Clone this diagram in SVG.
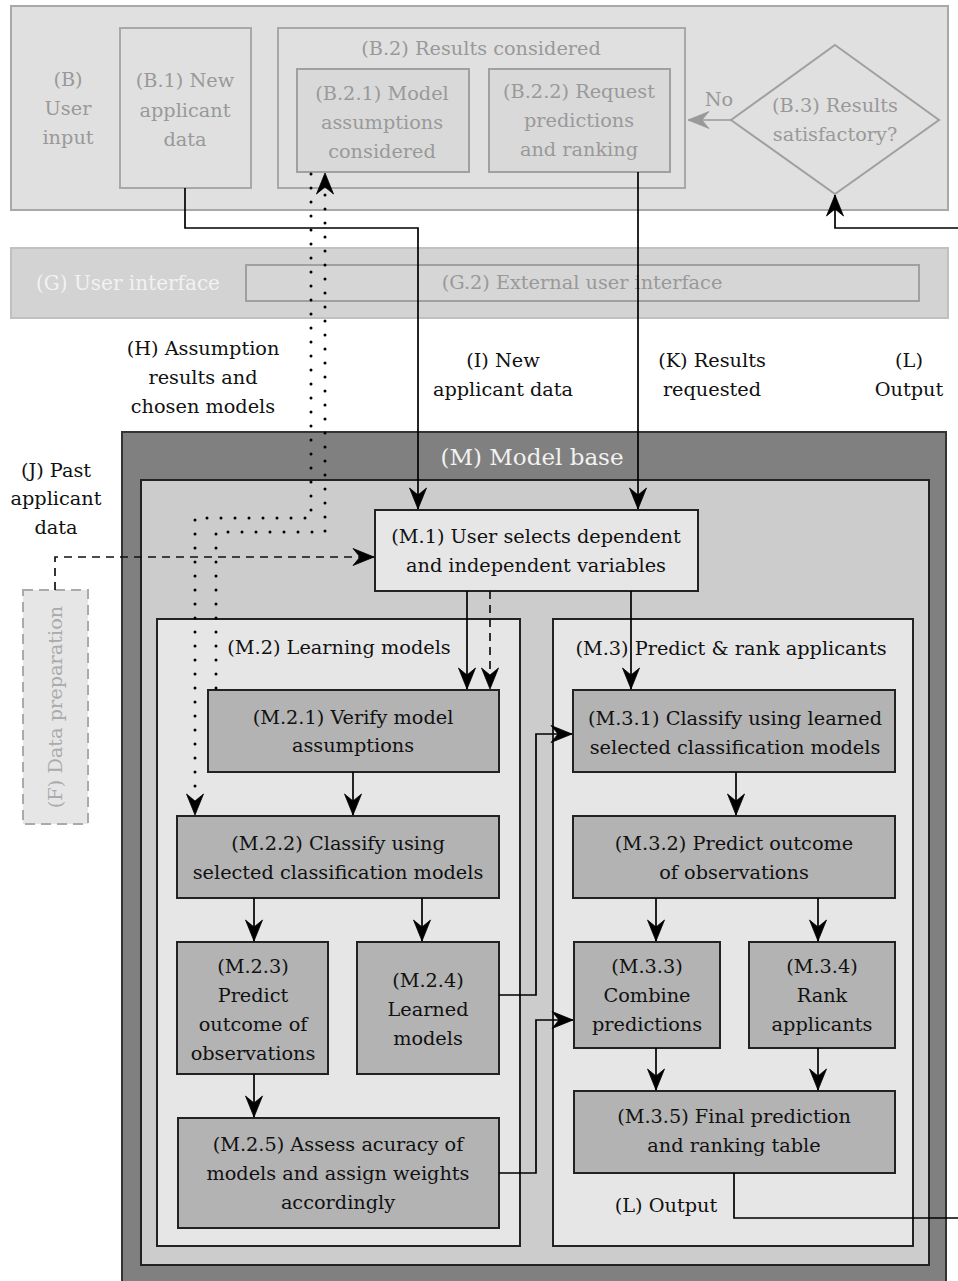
<svg xmlns="http://www.w3.org/2000/svg" width="958" height="1281" viewBox="0 0 958 1281">
<style>
text{font-family:"DejaVu Serif","Liberation Serif",serif;font-size:19.3px;text-anchor:middle;dominant-baseline:central;fill:#111}
.g{fill:#999}
.w{fill:#f2f2f2}
.bx{fill:#e0e0e0;stroke:#a8a8a8;stroke-width:2}
.bx2{fill:#d9d9d9;stroke:#a0a0a0;stroke-width:2}
.mid{fill:#e6e6e6;stroke:#222;stroke-width:2}
.dk{fill:#b3b3b3;stroke:#222;stroke-width:2}
.ln{fill:none;stroke:#000;stroke-width:1.7}
.dash{fill:none;stroke:#111;stroke-width:1.7;stroke-dasharray:8 6}
.dot{fill:none;stroke:#000;stroke-width:3;stroke-linecap:round;stroke-dasharray:0 14}
</style>
<defs>
<marker id="ah" viewBox="-23 -10 24 20" refX="0" refY="0" markerWidth="24" markerHeight="20" markerUnits="userSpaceOnUse" orient="auto">
<path d="M0,0 L-21,-8.5 L-14,0 L-21,8.5 Z" fill="#000" stroke="#000" stroke-width="0.8" stroke-linejoin="miter"/>
</marker>
<marker id="ahg" viewBox="-23 -10 24 20" refX="0" refY="0" markerWidth="24" markerHeight="20" markerUnits="userSpaceOnUse" orient="auto">
<path d="M0,0 L-21,-8.5 L-14,0 L-21,8.5 Z" fill="#999" stroke="#999" stroke-width="0.8"/>
</marker>
</defs>

<g id="B">
<rect class="bx" x="11" y="6" width="937" height="204"/>
<text class="g" x="68" y="79">(B)</text>
<text class="g" x="68" y="108">User</text>
<text class="g" x="68" y="137">input</text>
</g>
<g id="B1">
<rect class="bx" x="120" y="28" width="131" height="160"/>
<text class="g" x="185" y="80">(B.1) New</text>
<text class="g" x="185" y="110">applicant</text>
<text class="g" x="185" y="139">data</text>
</g>
<g id="B2">
<rect class="bx" x="278" y="28" width="407" height="160"/>
<text class="g" x="481" y="48">(B.2) Results considered</text>
</g>
<g id="B21">
<rect class="bx2" x="297" y="69" width="172" height="103"/>
<text class="g" x="382" y="93">(B.2.1) Model</text>
<text class="g" x="382" y="122">assumptions</text>
<text class="g" x="382" y="151">considered</text>
</g>
<g id="B22">
<rect class="bx2" x="489" y="69" width="181" height="103"/>
<text class="g" x="579" y="91">(B.2.2) Request</text>
<text class="g" x="579" y="120">predictions</text>
<text class="g" x="579" y="149">and ranking</text>
</g>
<g id="B3">
<polygon points="835,45 939,120 835,194 731,120" fill="#e0e0e0" stroke="#a0a0a0" stroke-width="2"/>
<text class="g" x="835" y="105">(B.3) Results</text>
<text class="g" x="835" y="134">satisfactory?</text>
</g>

<g id="G">
<rect x="11" y="248" width="937" height="70" fill="#d3d3d3" stroke="#c0c0c0" stroke-width="2"/>
<text class="w" x="128" y="283" style="font-size:20px">(G) User interface</text>
</g>
<g id="G2">
<rect x="246" y="265" width="673" height="36" fill="#d6d6d6" stroke="#a0a0a0" stroke-width="2"/>
<text class="g" x="582" y="282">(G.2) External user interface</text>
</g>

<g id="labels">
<text class="g" x="719" y="99">No</text>
<text x="203" y="348">(H) Assumption</text>
<text x="203" y="377">results and</text>
<text x="203" y="406">chosen models</text>
<text x="503" y="360">(I) New</text>
<text x="503" y="389">applicant data</text>
<text x="712" y="360">(K) Results</text>
<text x="712" y="389">requested</text>
<text x="909" y="360">(L)</text>
<text x="909" y="389">Output</text>
<text x="56" y="470">(J) Past</text>
<text x="56" y="498">applicant</text>
<text x="56" y="527">data</text>
</g>

<g id="F">
<rect x="23" y="590" width="65" height="234" fill="#e6e6e6" stroke="#aaa" stroke-width="2" stroke-dasharray="10 6"/>
<text x="0" y="0" transform="translate(55,707) rotate(-90)" style="fill:#aaa">(F) Data preparation</text>
</g>

<g id="M">
<rect x="122" y="432" width="824" height="860" fill="#808080" stroke="#333" stroke-width="2"/>
<text class="w" x="532" y="457" style="font-size:23px">(M) Model base</text>
<rect x="141" y="480" width="788" height="785" fill="#cccccc" stroke="#222" stroke-width="2"/>
</g>
<g id="M1">
<rect class="mid" x="375" y="510" width="323" height="81"/>
<text x="536" y="536">(M.1) User selects dependent</text>
<text x="536" y="565">and independent variables</text>
</g>
<g id="M2">
<rect class="mid" x="157" y="619" width="363" height="627"/>
<text x="339" y="647">(M.2) Learning models</text>
</g>
<g id="M3">
<rect class="mid" x="553" y="619" width="360" height="627"/>
<text x="731" y="648">(M.3) Predict &amp; rank applicants</text>
</g>
<g id="M21">
<rect class="dk" x="208" y="690" width="291" height="82"/>
<text x="353" y="717">(M.2.1) Verify model</text>
<text x="353" y="745">assumptions</text>
</g>
<g id="M22">
<rect class="dk" x="177" y="816" width="322" height="82"/>
<text x="338" y="843">(M.2.2) Classify using</text>
<text x="338" y="872">selected classification models</text>
</g>
<g id="M23">
<rect class="dk" x="177" y="942" width="151" height="132"/>
<text x="253" y="966">(M.2.3)</text>
<text x="253" y="995">Predict</text>
<text x="253" y="1024">outcome of</text>
<text x="253" y="1053">observations</text>
</g>
<g id="M24">
<rect class="dk" x="357" y="942" width="142" height="132"/>
<text x="428" y="980">(M.2.4)</text>
<text x="428" y="1009">Learned</text>
<text x="428" y="1038">models</text>
</g>
<g id="M25">
<rect class="dk" x="178" y="1118" width="321" height="110"/>
<text x="338" y="1144">(M.2.5) Assess acuracy of</text>
<text x="338" y="1173">models and assign weights</text>
<text x="338" y="1202">accordingly</text>
</g>
<g id="M31">
<rect class="dk" x="573" y="690" width="322" height="82"/>
<text x="735" y="718">(M.3.1) Classify using learned</text>
<text x="735" y="747">selected classification models</text>
</g>
<g id="M32">
<rect class="dk" x="573" y="816" width="322" height="82"/>
<text x="734" y="843">(M.3.2) Predict outcome</text>
<text x="734" y="872">of observations</text>
</g>
<g id="M33">
<rect class="dk" x="574" y="942" width="146" height="106"/>
<text x="647" y="966">(M.3.3)</text>
<text x="647" y="995">Combine</text>
<text x="647" y="1024">predictions</text>
</g>
<g id="M34">
<rect class="dk" x="749" y="942" width="146" height="106"/>
<text x="822" y="966">(M.3.4)</text>
<text x="822" y="995">Rank</text>
<text x="822" y="1024">applicants</text>
</g>
<g id="M35">
<rect class="dk" x="574" y="1091" width="321" height="82"/>
<text x="734" y="1116">(M.3.5) Final prediction</text>
<text x="734" y="1145">and ranking table</text>
</g>
<g id="Lout">
<text x="666" y="1205">(L) Output</text>
</g>

<g id="connectors">
<path class="ln" d="M185,188 V228 H418 V509" marker-end="url(#ah)"/>
<path class="ln" d="M638,172 V509" marker-end="url(#ah)"/>
<path class="ln" d="M958,228 H835 V195" marker-end="url(#ah)"/>
<path d="M731,120 H688" fill="none" stroke="#999" stroke-width="1.7" marker-end="url(#ahg)"/>
<path class="ln" d="M467,591 V689" marker-end="url(#ah)"/>
<path class="dash" d="M490,591 V689" marker-end="url(#ah)"/>
<path class="ln" d="M631,591 V689" marker-end="url(#ah)"/>
<path class="dash" d="M55,590 V557 H374" marker-end="url(#ah)"/>
<path class="dot" d="M311,174 V518 H195 V796"/>
<path d="M195,800 V815" fill="none" stroke="none" marker-end="url(#ah)"/>
<path class="dot" d="M216,688 V532 H325 V194"/>
<path d="M325,185 V173" fill="none" stroke="none" marker-end="url(#ah)"/>
<path class="ln" d="M353,772 V815" marker-end="url(#ah)"/>
<path class="ln" d="M254,898 V941" marker-end="url(#ah)"/>
<path class="ln" d="M422,898 V941" marker-end="url(#ah)"/>
<path class="ln" d="M254,1074 V1117" marker-end="url(#ah)"/>
<path class="ln" d="M499,995 H536 V734 H572" marker-end="url(#ah)"/>
<path class="ln" d="M499,1173 H536 V1020 H573" marker-end="url(#ah)"/>
<path class="ln" d="M736,772 V815" marker-end="url(#ah)"/>
<path class="ln" d="M656,898 V941" marker-end="url(#ah)"/>
<path class="ln" d="M818,898 V941" marker-end="url(#ah)"/>
<path class="ln" d="M656,1048 V1090" marker-end="url(#ah)"/>
<path class="ln" d="M818,1048 V1090" marker-end="url(#ah)"/>
<path class="ln" d="M734,1173 V1218 H958"/>
</g>
</svg>
